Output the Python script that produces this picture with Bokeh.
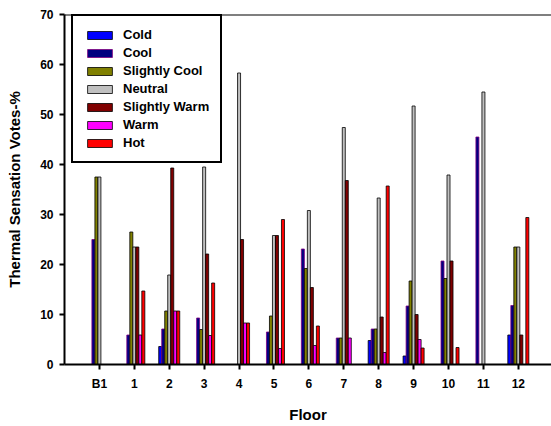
from bokeh.plotting import figure
from bokeh.models import Range1d, FixedTicker, Span, Legend, LegendItem
from bokeh.embed import file_html
from bokeh.resources import INLINE

floors = ["B1", "1", "2", "3", "4", "5", "6", "7", "8", "9", "10", "11", "12"]
categories = ["Cold", "Cool", "Slightly Cool", "Neutral", "Slightly Warm", "Warm", "Hot"]

cold = [0, 0, 3.6, 0, 0, 0, 0, 0, 4.8, 1.7, 0, 0, 5.9]
cool = [25.0, 5.9, 7.1, 9.3, 0, 6.5, 23.1, 5.3, 7.1, 11.7, 20.7, 45.5, 11.8]
slightly_cool = [37.5, 26.5, 10.7, 7.0, 0, 9.7, 19.2, 5.3, 7.1, 16.7, 17.2, 0, 23.5]
neutral = [37.5, 23.5, 17.9, 39.5, 58.3, 25.8, 30.8, 47.4, 33.3, 51.7, 37.9, 54.5, 23.5]
slightly_warm = [0, 23.5, 39.3, 22.1, 25.0, 25.8, 15.4, 36.8, 9.5, 10.0, 20.7, 0, 5.9]
warm = [0, 5.9, 10.7, 5.8, 8.3, 3.2, 3.8, 5.3, 2.4, 5.0, 0, 0, 0]
hot = [0, 14.7, 10.7, 16.3, 8.3, 29.0, 7.7, 0, 35.7, 3.3, 3.4, 0, 29.4]

series = [cold, cool, slightly_cool, neutral, slightly_warm, warm, hot]
fills = ["#0000FF", "#000080", "#808000", "#C0C0C0", "#800000", "#FF00FF", "#FF0000"]
lines = ["#000000", "#800080", "#000000", "#000000", "#000000", "#000000", "#000000"]

FONT = "Liberation Sans"

p = figure(width=551, height=426, output_backend="svg", toolbar_location=None,
           x_range=Range1d(-1.0, 12.95), y_range=Range1d(0, 70),
           min_border_left=64, min_border_right=0, min_border_top=14, min_border_bottom=62)
p.outline_line_color = None
p.grid.grid_line_color = None
p.background_fill_color = "white"
p.border_fill_color = "white"

bw = 0.086
xs = list(range(len(floors)))
items = []
for i, (vals, name) in enumerate(zip(series, categories)):
    off = (i - 3) * bw
    r = p.vbar(x=[x + off for x in xs], top=vals, bottom=0, width=bw,
               fill_color=fills[i], line_color=lines[i], line_width=0.8)
    items.append(LegendItem(label=name, renderers=[r]))

legend = Legend(items=items, location=(7, 201))
legend.border_line_color = "black"
legend.border_line_alpha = 1
legend.border_line_width = 2
legend.background_fill_color = "white"
legend.background_fill_alpha = 1
legend.padding = 11
legend.spacing = 3
legend.glyph_width = 31
legend.glyph_height = 10
legend.label_height = 15
legend.label_standoff = 8
legend.label_text_font = FONT
legend.label_text_font_style = "bold"
legend.label_text_font_size = "13px"
legend.label_text_color = "black"
legend.margin = 0
p.add_layout(legend, "center")

p.add_layout(Span(location=70, dimension="width", line_color="black", line_width=2))

p.xaxis.ticker = FixedTicker(ticks=xs)
p.xaxis.major_label_overrides = {i: f for i, f in enumerate(floors)}
p.yaxis.ticker = FixedTicker(ticks=[0, 10, 20, 30, 40, 50, 60, 70])

for ax in (p.xaxis, p.yaxis):
    ax.axis_line_width = 2
    ax.axis_line_color = "black"
    ax.major_tick_line_color = "black"
    ax.major_tick_line_width = 2
    ax.major_tick_in = 0
    ax.major_tick_out = 5
    ax.minor_tick_line_color = None
    ax.major_label_text_font = FONT
    ax.major_label_text_font_style = "bold"
    ax.major_label_text_font_size = "12px"
    ax.major_label_text_color = "black"
    ax.axis_label_text_font = FONT
    ax.axis_label_text_font_style = "bold"
    ax.axis_label_text_font_size = "15px"
    ax.axis_label_text_color = "black"

p.xaxis.major_label_standoff = 7
p.yaxis.major_label_standoff = 6
p.xaxis.axis_label = "Floor"
p.yaxis.axis_label = "Thermal Sensation Votes-%"
p.xaxis.axis_label_standoff = 12
p.yaxis.axis_label_standoff = 14

open("out.html", "w").write(file_html(p, INLINE))
